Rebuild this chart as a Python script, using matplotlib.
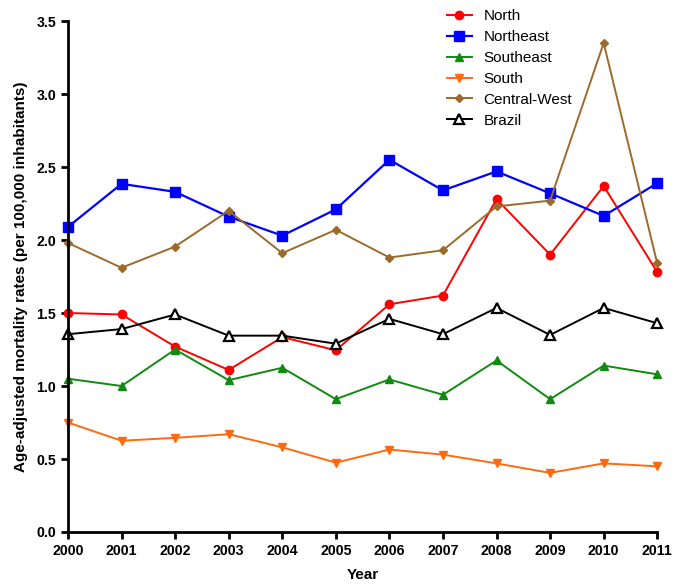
import numpy as np
import matplotlib
matplotlib.use("Agg")
import matplotlib.pyplot as plt

plt.rcParams['font.family'] = ['Liberation Sans', 'DejaVu Sans']

years = list(range(2000, 2012))
north = [1.50, 1.49, 1.27, 1.11, 1.335, 1.245, 1.56, 1.62, 2.28, 1.90, 2.37, 1.78]
northeast = [2.09, 2.385, 2.33, 2.16, 2.03, 2.21, 2.55, 2.34, 2.47, 2.32, 2.165, 2.39]
southeast = [1.05, 1.00, 1.25, 1.04, 1.125, 0.91, 1.045, 0.94, 1.175, 0.91, 1.14, 1.08]
south = [0.75, 0.625, 0.645, 0.67, 0.58, 0.475, 0.565, 0.53, 0.47, 0.405, 0.47, 0.45]
central_west = [1.98, 1.81, 1.955, 2.20, 1.91, 2.07, 1.88, 1.93, 2.23, 2.27, 3.35, 1.84]
brazil = [1.355, 1.39, 1.49, 1.345, 1.345, 1.29, 1.46, 1.355, 1.535, 1.35, 1.535, 1.43]

fig = plt.figure(figsize=(6.75, 5.85), dpi=100)
ax = fig.add_axes([0.1007, 0.0906, 0.873, 0.8734])

ax.plot(years, north, '-o', color='#FF0000', lw=1.4, ms=6, label='North', clip_on=False)
ax.plot(years, northeast, '-s', color='#0000FF', lw=1.6, ms=6.5, label='Northeast', clip_on=False)
ax.plot(years, southeast, '-^', color='#108A10', lw=1.4, ms=6, label='Southeast', clip_on=False)
ax.plot(years, south, '-v', color='#FF6A10', lw=1.4, ms=6, label='South', clip_on=False)
ax.plot(years, central_west, '-D', color='#9C6A2A', lw=1.4, ms=4, label='Central-West', clip_on=False)
ax.plot(years, brazil, '-^', color='black', lw=1.4, ms=7, mfc='white', mew=1.6,
        label='Brazil', clip_on=False)

ax.set_xlim(2000, 2011)
ax.set_ylim(0, 3.5)
ax.set_xticks(years)
ax.set_yticks(np.arange(0, 3.51, 0.5))
ax.set_yticklabels(['%.1f' % v for v in np.arange(0, 3.51, 0.5)])
for s in ['top', 'right']:
    ax.spines[s].set_visible(False)
for s in ['left', 'bottom']:
    ax.spines[s].set_linewidth(2)
ax.tick_params(width=2, length=5, labelsize=10.2)
for lab in ax.get_xticklabels() + ax.get_yticklabels():
    lab.set_fontweight('bold')

ax.set_xlabel('Year', fontsize=11, fontweight='bold', labelpad=7)
ax.set_ylabel('Age-adjusted mortality rates (per 100,000 inhabitants)',
              fontsize=11, fontweight='bold', labelpad=6)

ax.legend(loc='upper left', bbox_to_anchor=(0.62, 1.05), frameon=False,
          fontsize=11, handlelength=1.6, labelspacing=0.45, handletextpad=0.8)

fig.savefig('out.png', dpi=100)
